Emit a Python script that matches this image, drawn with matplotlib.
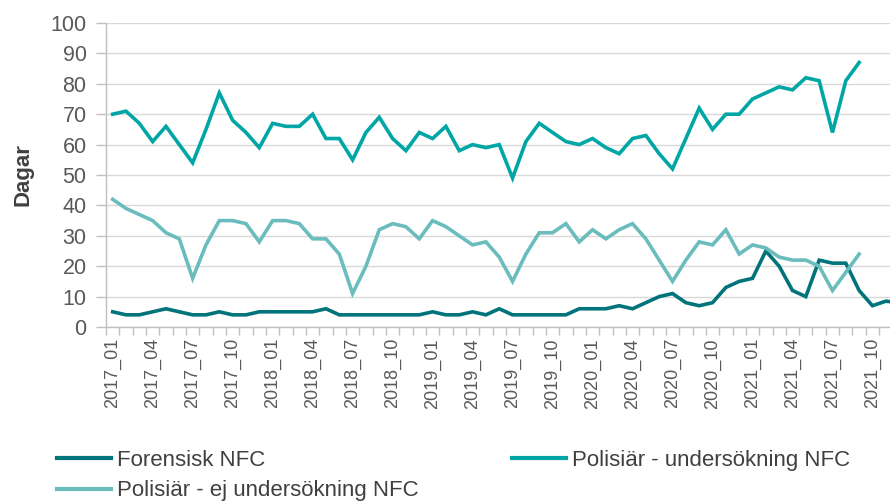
import matplotlib.pyplot as plt
from matplotlib.ticker import FixedLocator

# Monthly categories 2017_01 .. 2021_12
months = [f"{y}_{m:02d}" for y in range(2017, 2022) for m in range(1, 13)]

forensisk = [5, 4, 4, 5, 6, 5, 4, 4, 5, 4, 4, 5,
             5, 5, 5, 5, 6, 4, 4, 4, 4, 4, 4, 4,
             5, 4, 4, 5, 4, 6, 4, 4, 4, 4, 4, 6,
             6, 6, 7, 6, 8, 10, 11, 8, 7, 8, 13, 15,
             16, 25, 20, 12, 10, 22, 21, 21, 12, 7, 8.5, 8]

polis_unders = [70, 71, 67, 61, 66, 60, 54, 65, 77, 68, 64, 59,
                67, 66, 66, 70, 62, 62, 55, 64, 69, 62, 58, 64,
                62, 66, 58, 60, 59, 60, 49, 61, 67, 64, 61, 60,
                62, 59, 57, 62, 63, 57, 52, 62, 72, 65, 70, 70,
                75, 77, 79, 78, 82, 81, 64, 81, 87]

polis_ej_unders = [42, 39, 37, 35, 31, 29, 16, 27, 35, 35, 34, 28,
                   35, 35, 34, 29, 29, 24, 11, 20, 32, 34, 33, 29,
                   35, 33, 30, 27, 28, 23, 15, 24, 31, 31, 34, 28,
                   32, 29, 32, 34, 29, 22, 15, 22, 28, 27, 32, 24,
                   27, 26, 23, 22, 22, 20, 12, 18, 24]

series_names = ["Forensisk NFC", "Polisiär - undersökning NFC", "Polisiär - ej undersökning NFC"]
colors = ["#00747a", "#00a6a6", "#6bbdbd"]

plt.rcParams["font.family"] = ["Liberation Sans", "DejaVu Sans"]

fig = plt.figure(figsize=(8.9, 5.03), dpi=100)
ax = fig.add_axes([106 / 890, 1 - 327 / 503, 1 - 106 / 890, (327 - 23) / 503])

lines = {}
for name, values, color in zip(series_names, [forensisk, polis_unders, polis_ej_unders], colors):
    (ln,) = ax.plot(range(len(values)), values, color=color, linewidth=2.6, solid_joinstyle="miter",
                    label=name)
    lines[name] = ln

ax.set_xlim(-0.5, -0.5 + (890 - 106) / 13.33)
ax.set_ylim(0, 100)

# Y axis
ax.set_yticks(range(0, 101, 10))
ax.tick_params(axis="y", labelsize=15.5, labelcolor="#595959", color="#bfbfbf", length=7, width=1, pad=7)
ax.yaxis.grid(True, color="#d9d9d9", linewidth=1)
ax.set_axisbelow(True)
ax.set_ylabel("Dagar", fontsize=16, fontweight="bold", color="#404040", labelpad=12)

# X axis: labels every third month, tick marks at month boundaries
major = list(range(0, len(months), 3))
ax.set_xticks(major)
ax.set_xticklabels([months[i] for i in major], rotation=90)
ax.xaxis.set_minor_locator(FixedLocator([k - 0.5 for k in range(len(months) + 1)]))
ax.tick_params(axis="x", which="major", length=0, labelsize=13, labelcolor="#595959", pad=8)
ax.tick_params(axis="x", which="minor", length=6, color="#bfbfbf", width=1)

for side in ("top", "right"):
    ax.spines[side].set_visible(False)
for side in ("left", "bottom"):
    ax.spines[side].set_color("#bfbfbf")
    ax.spines[side].set_linewidth(1)

# Legend: two columns, column-wise order
order = [series_names[0], series_names[2], series_names[1]]
leg = fig.legend([lines[n] for n in order], order, ncol=2, loc="upper left",
                 bbox_to_anchor=(57 / 890, 1 - 450 / 503), frameon=False,
                 fontsize=16, handlelength=2.45, handletextpad=0.25, columnspacing=4.2,
                 labelspacing=0.42, borderpad=0, borderaxespad=0)
for t in leg.get_texts():
    t.set_color("#404040")
for h in leg.legend_handles:
    h.set_linewidth(3)

fig.savefig("out.png", dpi=100)
